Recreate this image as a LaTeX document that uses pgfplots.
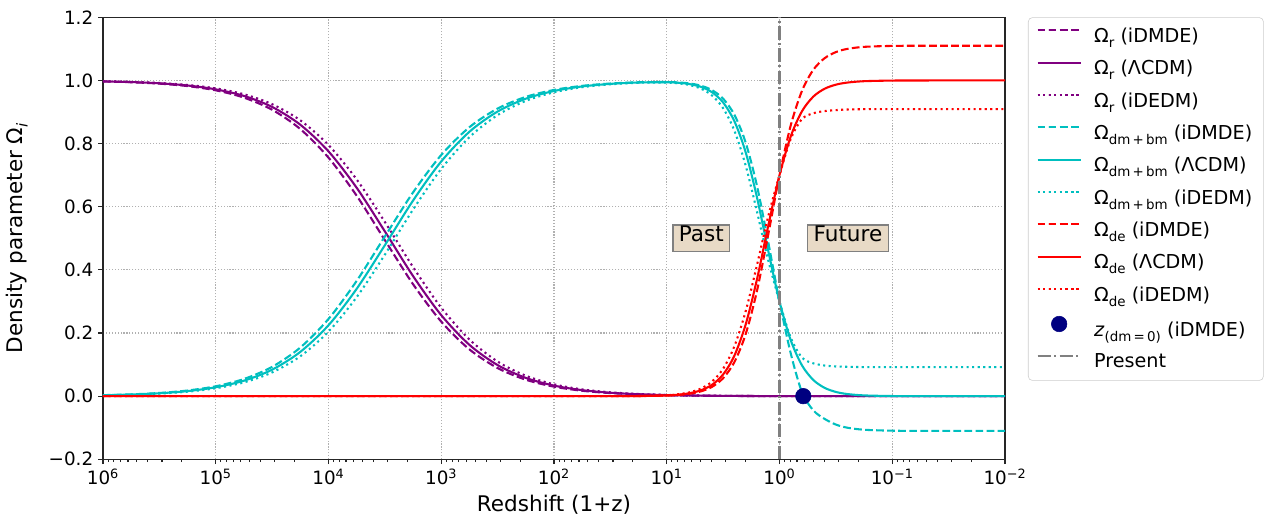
\documentclass[border=0pt]{standalone}
\usepackage{fontspec}
\setmainfont{DejaVu Sans}
\usepackage{graphicx}
\usepackage{pgfplots}
\usepackage{pgfplotstable}
\pgfplotsset{compat=1.18}
\definecolor{cpurple}{RGB}{128,0,128}
\definecolor{ccyan}{RGB}{0,191,191}
\definecolor{cred}{RGB}{255,0,0}
\definecolor{cnavy}{RGB}{0,0,128}
\definecolor{cgrey}{RGB}{128,128,128}
\definecolor{ctan}{RGB}{232,218,198}
\definecolor{cgrid}{RGB}{176,176,176}
\definecolor{cleg}{RGB}{204,204,204}
\newcommand\sub[1]{\raisebox{-0.25em}{\scalebox{0.7}{#1}}}

% x = 1+z ; r = Omega_r ; m = Omega_dm+bm ; de = Omega_de
\pgfplotstableread{
x r m de
1e6 0.9968 0.0032 0
562341 0.9943 0.0057 0
316228 0.9899 0.0101 0
177828 0.9821 0.0179 0
100000 0.9687 0.0313 0
56234 0.9456 0.0544 0
31623 0.9072 0.0928 0
17783 0.8460 0.1540 0
10000 0.7555 0.2445 0
5623.4 0.6348 0.3652 0
3162.3 0.4942 0.5058 0
1778.3 0.3546 0.6454 0
1000 0.2361 0.7639 0
562.34 0.1481 0.8519 0
316.23 0.0890 0.9110 0
177.83 0.0521 0.9479 0
100 0.0300 0.9700 0
56.234 0.0171 0.9829 0
31.623 0.0097 0.9902 0.0001
17.783 0.0055 0.9942 0.0003
10 0.0031 0.9950 0.0019
7.9433 0.0025 0.9937 0.0038
6.3096 0.0019 0.9906 0.0075
5.0119 0.0015 0.9836 0.0149
3.9811 0.0012 0.9696 0.0292
3.1623 0.0009 0.9422 0.0569
2.5119 0.0007 0.8914 0.1079
1.9953 0.0005 0.8031 0.1964
1.5849 0.0003 0.6666 0.3331
1.2589 0.0002 0.4880 0.5118
1 0.0001 0.2999 0.7000
0.79433 0 0.135 0.8581
0.63096 0 0.012 0.9676
0.50119 0 -0.045 1.0338
0.39811 0 -0.072 1.0704
0.31623 0 -0.090 1.0898
0.25119 0 -0.0998 1.0998
0.17783 0 -0.1064 1.1064
0.1 0 -0.1094 1.1094
0.056234 0 -0.1099 1.1099
0.031623 0 -0.1100 1.1100
0.01 0 -0.1100 1.1100
}\tDMDE

\pgfplotstableread{
x r m de
1e6 0.9971 0.0029 0
562341 0.9949 0.0051 0
316228 0.9909 0.0091 0
177828 0.9840 0.0160 0
100000 0.9718 0.0282 0
56234 0.9510 0.0490 0
31623 0.9161 0.0839 0
17783 0.8598 0.1402 0
10000 0.7754 0.2246 0
5623.4 0.6600 0.3400 0
3162.3 0.5219 0.4781 0
1778.3 0.3804 0.6196 0
1000 0.2566 0.7434 0
562.34 0.1625 0.8375 0
316.23 0.0984 0.9016 0
177.83 0.0578 0.9422 0
100 0.0334 0.9666 0
56.234 0.0190 0.9810 0
31.623 0.0108 0.9891 0.0001
17.783 0.0061 0.9935 0.0004
10 0.0034 0.9943 0.0023
7.9433 0.0027 0.9927 0.0046
6.3096 0.0022 0.9886 0.0092
5.0119 0.0017 0.9801 0.0182
3.9811 0.0013 0.9630 0.0357
3.1623 0.0010 0.9303 0.0687
2.5119 0.0008 0.8709 0.1283
1.9953 0.0005 0.7724 0.2271
1.5849 0.0003 0.6301 0.3696
1.2589 0.0002 0.4607 0.5391
1 0.0001 0.2999 0.7000
0.79433 0 0.1768 0.8232
0.63096 0 0.0972 0.9028
0.50119 0 0.0512 0.9488
0.39811 0 0.0263 0.9737
0.31623 0 0.0134 0.9866
0.25119 0 0.0068 0.9932
0.17783 0 0.0024 0.9976
0.1 0 0.0004 0.9996
0.056234 0 0.0001 0.9999
0.031623 0 0 1.0
0.01 0 0 1.0
}\tLCDM

\pgfplotstableread{
x r m de
1e6 0.9974 0.0026 0
562341 0.9955 0.0045 0
316228 0.9919 0.0081 0
177828 0.9858 0.0142 0
100000 0.9749 0.0251 0
56234 0.9563 0.0437 0
31623 0.9248 0.0752 0
17783 0.8737 0.1263 0
10000 0.7955 0.2045 0
5623.4 0.6863 0.3137 0
3162.3 0.5517 0.4483 0
1778.3 0.4089 0.5911 0
1000 0.2801 0.7199 0
562.34 0.1795 0.8205 0
316.23 0.1096 0.8904 0
177.83 0.0647 0.9353 0
100 0.0375 0.9625 0
56.234 0.0214 0.9786 0
31.623 0.0122 0.9877 0.0001
17.783 0.0069 0.9926 0.0005
10 0.0039 0.9931 0.0030
7.9433 0.0031 0.9909 0.0060
6.3096 0.0024 0.9857 0.0119
5.0119 0.0019 0.9746 0.0235
3.9811 0.0015 0.9528 0.0457
3.1623 0.0011 0.9121 0.0868
2.5119 0.0008 0.8411 0.1581
1.9953 0.0006 0.7304 0.2690
1.5849 0.0004 0.5849 0.4147
1.2589 0.0002 0.4305 0.5693
1 0.0001 0.2999 0.7000
0.79433 0 0.185 0.815
0.63096 0 0.122 0.878
0.50119 0 0.104 0.896
0.39811 0 0.097 0.903
0.31623 0 0.094 0.906
0.25119 0 0.093 0.908
0.17783 0 0.092 0.909
0.1 0 0.092 0.909
0.056234 0 0.092 0.909
0.031623 0 0.092 0.909
0.01 0 0.092 0.909
}\tDEDM

\begin{document}
\begin{tikzpicture}
\begin{axis}[
  name=ax,
  scale only axis, width=649.44pt, height=318.24pt,
  xmode=log, x dir=reverse, xmin=0.01, xmax=1e6,
  ymin=-0.2, ymax=1.2,
  xtick={1e6,1e5,1e4,1e3,1e2,1e1,1,1e-1,1e-2},
  xticklabels={10\textsuperscript{6},10\textsuperscript{5},10\textsuperscript{4},10\textsuperscript{3},10\textsuperscript{2},10\textsuperscript{1},10\textsuperscript{0},10\textsuperscript{−1},10\textsuperscript{−2}},
  minor xtick={0.02,0.03,0.04,0.05,0.06,0.07,0.08,0.09,
    0.2,0.3,0.4,0.5,0.6,0.7,0.8,0.9,
    2,3,4,5,6,7,8,9,
    20,30,40,50,60,70,80,90,
    200,300,400,500,600,700,800,900,
    2000,3000,4000,5000,6000,7000,8000,9000,
    20000,30000,40000,50000,60000,70000,80000,90000,
    200000,300000,400000,500000,600000,700000,800000,900000},
  ytick={-0.2,0,0.2,0.4,0.6,0.8,1.0,1.2},
  yticklabels={−0.2,0.0,0.2,0.4,0.6,0.8,1.0,1.2},
  tick align=outside, xtick pos=bottom, ytick pos=left,
  major tick length=3.5pt, minor tick length=2pt,
  every tick/.style={black!85, line width=0.8pt},
  axis line style={black!85, line width=0.8pt},
  xmajorgrids, ymajorgrids,
  major grid style={cgrid, line width=0.8pt, dash pattern=on 0.8pt off 1.32pt},
  ticklabel style={font=\fontsize{13.2}{15}\selectfont},
  label style={font=\fontsize{15.5}{18}\selectfont},
  xlabel={Redshift (1+z)},
  ylabel={Density parameter Ω\sub{\textit{i}}},
  xlabel style={at={(axis description cs:0.5,-0.117)}, anchor=base},
  ylabel style={at={(axis description cs:-0.078,0.5)}, anchor=south},
  legend cell align=left,
  legend image code/.code={\draw[mark repeat=2,mark phase=2,#1] plot coordinates {(0pt,4.3pt) (15.5pt,4.3pt) (31pt,4.3pt)};},
  legend style={at={(1.0255,1)}, anchor=north west, draw=cleg,
    rounded corners=3pt, fill=white,
    font=\fontsize{13.8}{16.5}\selectfont,
    inner xsep=6pt, inner ysep=5.5pt, row sep=7.3pt,
    /tikz/every odd column/.append style={column sep=7pt}},
]
% radiation
\addplot[cpurple, line width=1.5pt, dash pattern=on 5.55pt off 2.4pt, smooth] table[x=x,y=r] {\tDMDE};
\addlegendentry{Ω\sub{r} (iDMDE)}
\addplot[cpurple, line width=1.5pt, smooth] table[x=x,y=r] {\tLCDM};
\addlegendentry{Ω\sub{r} (ΛCDM)}
\addplot[cpurple, line width=1.5pt, dash pattern=on 1.5pt off 2.475pt, smooth] table[x=x,y=r] {\tDEDM};
\addlegendentry{Ω\sub{r} (iDEDM)}
% matter
\addplot[ccyan, line width=1.5pt, dash pattern=on 5.55pt off 2.4pt, smooth] table[x=x,y=m] {\tDMDE};
\addlegendentry{Ω\sub{dm\,+\,bm} (iDMDE)}
\addplot[ccyan, line width=1.5pt, smooth] table[x=x,y=m] {\tLCDM};
\addlegendentry{Ω\sub{dm\,+\,bm} (ΛCDM)}
\addplot[ccyan, line width=1.5pt, dash pattern=on 1.5pt off 2.475pt, smooth] table[x=x,y=m] {\tDEDM};
\addlegendentry{Ω\sub{dm\,+\,bm} (iDEDM)}
% dark energy
\addplot[cred, line width=1.5pt, dash pattern=on 5.55pt off 2.4pt, smooth] table[x=x,y=de] {\tDMDE};
\addlegendentry{Ω\sub{de} (iDMDE)}
\addplot[cred, line width=1.5pt, smooth] table[x=x,y=de] {\tLCDM};
\addlegendentry{Ω\sub{de} (ΛCDM)}
\addplot[cred, line width=1.5pt, dash pattern=on 1.5pt off 2.475pt, smooth] table[x=x,y=de] {\tDEDM};
\addlegendentry{Ω\sub{de} (iDEDM)}
% zero crossing of dm (iDMDE)
\addplot[only marks, mark=*, mark size=5.6pt, color=cnavy, fill=cnavy] coordinates {(0.615,0)};
\addlegendentry{\textit{z}\sub{(dm\,=\,0)} (iDMDE)}
% present
\addplot[cgrey, line width=1.5pt, dash pattern=on 9.6pt off 2.4pt on 1.5pt off 2.4pt] coordinates {(1,-0.2) (1,1.2)};
\addlegendentry{Present}

\node[fill=ctan, draw=cgrey, line width=1pt, font=\fontsize{15.5}{18}\selectfont,
  inner xsep=4.3pt, inner ysep=4.5pt, text height=0.76em, text depth=0.24em]
  at (axis cs:4.94,0.5) {Past};
\node[fill=ctan, draw=cgrey, line width=1pt, font=\fontsize{15.5}{18}\selectfont,
  inner xsep=4.3pt, inner ysep=4.5pt, text height=0.76em, text depth=0.24em]
  at (axis cs:0.247,0.5) {Future};
\end{axis}
\pgfresetboundingbox
\path[use as bounding box] ([shift={(-74.16pt,-43pt)}]ax.south west) rectangle ([shift={(199.44pt,12.46pt)}]ax.north east);
\end{tikzpicture}
\end{document}
